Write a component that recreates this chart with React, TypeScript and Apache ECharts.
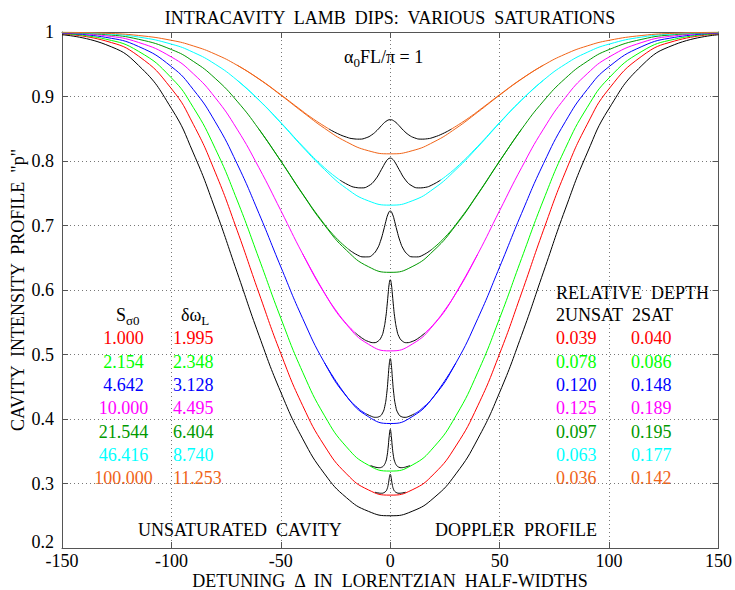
import React, { useEffect, useRef } from 'react';
import * as echarts from 'echarts';

const SERIF = '"Liberation Serif", "Times New Roman", Times, serif';

// ---------- data ----------
const X_GRID = [-150, -130, -115, -100, -90, -80, -70, -60, -50, -40, -30, -20, -10, 0, 10, 20, 30, 40, 50, 60, 70, 80, 90, 100, 115, 130, 150];

const unsatProfile = [0.9957, 0.9805, 0.9482, 0.8815, 0.8125, 0.7255, 0.6277, 0.5297, 0.4414, 0.3692, 0.3149, 0.2780, 0.2569, 0.2500, 0.2569, 0.2780, 0.3149, 0.3692, 0.4414, 0.5297, 0.6277, 0.7255, 0.8125, 0.8815, 0.9482, 0.9805, 0.9957];
const redCurve = [0.9970, 0.9861, 0.9626, 0.9121, 0.8569, 0.7827, 0.6927, 0.5952, 0.5014, 0.4206, 0.3582, 0.3150, 0.2901, 0.2820, 0.2901, 0.3150, 0.3582, 0.4206, 0.5014, 0.5952, 0.6927, 0.7827, 0.8569, 0.9121, 0.9626, 0.9861, 0.9970];
const greenCurve = [0.9976, 0.9889, 0.9700, 0.9289, 0.8830, 0.8195, 0.7395, 0.6488, 0.5563, 0.4725, 0.4049, 0.3568, 0.3285, 0.3193, 0.3285, 0.3568, 0.4049, 0.4725, 0.5563, 0.6488, 0.7395, 0.8195, 0.8830, 0.9289, 0.9700, 0.9889, 0.9976];
const blueCurve = [0.9982, 0.9917, 0.9775, 0.9463, 0.9108, 0.8609, 0.7958, 0.7187, 0.6358, 0.5557, 0.4869, 0.4352, 0.4036, 0.3930, 0.4036, 0.4352, 0.4869, 0.5557, 0.6358, 0.7187, 0.7958, 0.8609, 0.9108, 0.9463, 0.9775, 0.9917, 0.9982];
const magentaCurve = [0.9987, 0.9941, 0.9838, 0.9612, 0.9353, 0.8983, 0.8494, 0.7896, 0.7232, 0.6558, 0.5948, 0.5466, 0.5160, 0.5056, 0.5160, 0.5466, 0.5948, 0.6558, 0.7232, 0.7896, 0.8494, 0.8983, 0.9353, 0.9612, 0.9838, 0.9941, 0.9987];
const dkgreenCurve = [0.9991, 0.9959, 0.9887, 0.9728, 0.9545, 0.9281, 0.8928, 0.8493, 0.7997, 0.7483, 0.7004, 0.6616, 0.6362, 0.6274, 0.6362, 0.6616, 0.7004, 0.7483, 0.7997, 0.8493, 0.8928, 0.9281, 0.9545, 0.9728, 0.9887, 0.9959, 0.9991];
const cyanCurve = [0.9994, 0.9971, 0.9922, 0.9812, 0.9685, 0.9501, 0.9253, 0.8944, 0.8590, 0.8216, 0.7866, 0.7574, 0.7382, 0.7316, 0.7382, 0.7574, 0.7866, 0.8216, 0.8590, 0.8944, 0.9253, 0.9501, 0.9685, 0.9812, 0.9922, 0.9971, 0.9994];
const orangeCurve = [0.9996, 0.9980, 0.9946, 0.9871, 0.9784, 0.9657, 0.9485, 0.9270, 0.9021, 0.8758, 0.8506, 0.8297, 0.8159, 0.8111, 0.8159, 0.8297, 0.8506, 0.8758, 0.9021, 0.9270, 0.9485, 0.9657, 0.9784, 0.9871, 0.9946, 0.9980, 0.9996];

// saturated (Lamb dip) profiles near line centre, drawn black
const redDipX = [-7, -5, -4, -3, -2, -1.5, -1, -0.5, -0.25, 0, 0.25, 0.5, 1, 1.5, 2, 3, 4, 5, 7];
const redDipY = [0.2865, 0.2851, 0.2849, 0.2856, 0.2880, 0.2910, 0.2969, 0.3072, 0.3125, 0.3143, 0.3125, 0.3072, 0.2969, 0.2910, 0.2880, 0.2856, 0.2849, 0.2851, 0.2865];
const greenDipX = [-9, -7, -6, -5, -4, -3, -2, -1.5, -1, -0.5, 0, 0.5, 1, 1.5, 2, 3, 4, 5, 6, 7, 9];
const greenDipY = [0.3278, 0.3255, 0.3248, 0.3245, 0.3252, 0.3276, 0.3344, 0.3418, 0.3545, 0.3725, 0.3839, 0.3725, 0.3545, 0.3418, 0.3344, 0.3276, 0.3252, 0.3245, 0.3248, 0.3255, 0.3278];
const blueDipX = [-11, -8.5, -6.8, -5, -3.5, -2.5, -1.6, -1, -0.5, 0, 0.5, 1, 1.6, 2.5, 3.5, 5, 6.8, 8.5, 11];
const blueDipY = [0.4080, 0.4040, 0.4026, 0.4038, 0.4094, 0.4195, 0.4397, 0.4624, 0.4833, 0.4937, 0.4833, 0.4624, 0.4397, 0.4195, 0.4094, 0.4038, 0.4026, 0.4040, 0.4080];
const magentaDipX = [-16, -12.5, -10, -7.5, -5.5, -4, -3, -2, -1.5, -1, -0.5, 0, 0.5, 1, 1.5, 2, 3, 4, 5.5, 7.5, 10, 12.5, 16];
const magentaDipY = [0.5337, 0.5245, 0.5202, 0.5183, 0.5209, 0.5276, 0.5384, 0.5586, 0.5742, 0.5924, 0.6091, 0.6159, 0.6091, 0.5924, 0.5742, 0.5586, 0.5384, 0.5276, 0.5209, 0.5183, 0.5202, 0.5245, 0.5337];
const dkgreenDipX = [-19, -15, -12, -10, -8, -6, -4.5, -3, -2, -1, 0, 1, 2, 3, 4.5, 6, 8, 10, 12, 15, 19];
const dkgreenDipY = [0.6630, 0.6542, 0.6513, 0.6514, 0.6549, 0.6635, 0.6754, 0.6930, 0.7065, 0.7177, 0.7225, 0.7177, 0.7065, 0.6930, 0.6754, 0.6635, 0.6549, 0.6514, 0.6513, 0.6542, 0.6630];
const cyanDipX = [-23, -19, -16, -13, -10, -7, -4, -2, -1, 0, 1, 2, 4, 7, 10, 13, 16, 19, 23];
const cyanDipY = [0.7704, 0.7627, 0.7591, 0.7583, 0.7613, 0.7704, 0.7870, 0.7990, 0.8030, 0.8045, 0.8030, 0.7990, 0.7870, 0.7704, 0.7613, 0.7583, 0.7591, 0.7627, 0.7704];
const orangeDipX = [-28, -24, -20, -17, -14, -11, -8.5, -6, -4, -2, 0, 2, 4, 6, 8.5, 11, 14, 17, 20, 24, 28];
const orangeDipY = [0.8496, 0.8424, 0.8370, 0.8345, 0.8339, 0.8360, 0.8404, 0.8476, 0.8549, 0.8613, 0.8640, 0.8613, 0.8549, 0.8476, 0.8404, 0.8360, 0.8339, 0.8345, 0.8370, 0.8424, 0.8496];

// saturated profile wings (coloured) outside the black centre part; null = gap
const blueWingX = [-30, -20, -14, -11, 0, 11, 14, 20, 30];
const blueWingY = [0.4869, 0.4355, 0.4147, 0.4080, null, 0.4080, 0.4147, 0.4355, 0.4869];
const magentaWingX = [-40, -30, -25, -20, -16, 0, 16, 20, 25, 30, 40];
const magentaWingY = [0.6558, 0.5951, 0.5693, 0.5475, 0.5337, null, 0.5337, 0.5475, 0.5693, 0.5951, 0.6558];
const dkgreenWingX = [-60, -50, -40, -32, -25, -19, 0, 19, 25, 32, 40, 50, 60];
const dkgreenWingY = [0.8493, 0.8001, 0.7490, 0.7106, 0.6817, 0.6630, null, 0.6630, 0.6817, 0.7106, 0.7490, 0.8001, 0.8493];
const cyanWingX = [-70, -60, -50, -40, -30, -23, 0, 23, 30, 40, 50, 60, 70];
const cyanWingY = [0.9253, 0.8946, 0.8597, 0.8229, 0.7893, 0.7704, null, 0.7704, 0.7893, 0.8229, 0.8597, 0.8946, 0.9253];
const orangeWingX = [-70, -60, -50, -42, -35, -28, 0, 28, 35, 42, 50, 60, 70];
const orangeWingY = [0.9487, 0.9274, 0.9028, 0.8822, 0.8648, 0.8496, null, 0.8496, 0.8648, 0.8822, 0.9028, 0.9274, 0.9487];

// table texts
const satLabels = ['1.000', '2.154', '4.642', '10.000', '21.544', '46.416', '100.000'];
const dipWidthLabels = ['1.995', '2.348', '3.128', '4.495', '6.404', '8.740', '11.253'];
const depthUnsatLabels = ['0.039', '0.078', '0.120', '0.125', '0.097', '0.063', '0.036'];
const depthSatLabels = ['0.040', '0.086', '0.148', '0.189', '0.195', '0.177', '0.142'];

const COLORS = ['#ff0000', '#00ff00', '#0000ff', '#ff00ff', '#009900', '#00ffff', '#f06418'];

function pairs(xs: number[], ys: (number | null)[]) {
  return xs.map((x, i) => [x, ys[i] === null ? '-' : ys[i]]);
}

function lineSeries(xs: number[], ys: (number | null)[], color: string) {
  return {
    type: 'line',
    data: pairs(xs, ys),
    showSymbol: false,
    symbol: 'none',
    smooth: true,
    silent: true,
    connectNulls: false,
    lineStyle: { color, width: 1 },
    emphasis: { disabled: true },
  };
}

export default function App() {
  const ref = useRef<HTMLDivElement>(null);

  useEffect(() => {
    if (!ref.current) return;
    const chart = echarts.init(ref.current, undefined, { renderer: 'svg' });

    const canvas = document.createElement('canvas');
    const ctx = canvas.getContext('2d')!;
    const tw = (t: string, size: number) => {
      ctx.font = `${size}px "Liberation Serif"`;
      return ctx.measureText(t).width;
    };

    const FS = 18;
    const SUB = 13;
    const txt = (text: string, x: number, y: number, fill = '#000', align = 'left', size = FS, extra: any = {}) => ({
      type: 'text',
      x,
      y,
      silent: true,
      ...extra,
      style: { text, fill, fontSize: size, fontFamily: SERIF, align, verticalAlign: 'middle' },
    });

    const graphics: any[] = [];
    graphics.push(txt('INTRACAVITY  LAMB  DIPS:  VARIOUS  SATURATIONS', 390, 18, '#000', 'center'));
    graphics.push(txt('DETUNING  \u0394  IN  LORENTZIAN  HALF-WIDTHS', 390, 581, '#000', 'center'));
    graphics.push(txt('CAVITY  INTENSITY  PROFILE  "p"', 18, 290, '#000', 'center', FS, { rotation: Math.PI / 2 }));

    // alpha_0 FL / pi = 1
    {
      const x0 = 344, y0 = 57;
      const w1 = tw('\u03b1', FS);
      graphics.push(txt('\u03b1', x0, y0));
      graphics.push(txt('0', x0 + w1, y0 + 5, '#000', 'left', SUB));
      const w2 = tw('0', SUB);
      graphics.push(txt('FL/\u03c0 = 1', x0 + w1 + w2, y0));
    }
    // S_sigma0 header
    {
      const x0 = 116, y0 = 315;
      const w1 = tw('S', FS);
      graphics.push(txt('S', x0, y0));
      graphics.push(txt('\u03c30', x0 + w1, y0 + 5, '#000', 'left', SUB));
    }
    // delta omega_L header
    {
      const x0 = 181, y0 = 315;
      const w1 = tw('\u03b4\u03c9', FS);
      graphics.push(txt('\u03b4\u03c9', x0, y0));
      graphics.push(txt('L', x0 + w1, y0 + 5, '#000', 'left', SUB));
    }
    graphics.push(txt('RELATIVE  DEPTH', 556, 293));
    graphics.push(txt('2UNSAT', 556, 315));
    graphics.push(txt('2SAT', 632, 315));

    const rowY0 = 338.3;
    const rowDy = 23.33;
    satLabels.forEach((s, i) => {
      const y = rowY0 + i * rowDy;
      graphics.push(txt(s, 123.5, y, COLORS[i], 'center'));
      graphics.push(txt(dipWidthLabels[i], 173, y, COLORS[i], 'left'));
      graphics.push(txt(depthUnsatLabels[i], 556, y, COLORS[i], 'left'));
      graphics.push(txt(depthSatLabels[i], 631, y, COLORS[i], 'left'));
    });

    graphics.push(txt('UNSATURATED  CAVITY', 138, 530));
    graphics.push(txt('DOPPLER  PROFILE', 435, 530));

    const axisColor = '#555';
    const baseX = {
      type: 'value',
      min: -150,
      max: 150,
      interval: 50,
      axisLine: { show: true, onZero: false, lineStyle: { color: axisColor, width: 1 } },
      axisTick: { show: true, inside: true, length: 6, lineStyle: { color: axisColor } },
    };
    const baseY = {
      type: 'value',
      min: 0.2,
      max: 1,
      interval: 0.1,
      axisLine: { show: true, onZero: false, lineStyle: { color: axisColor, width: 1 } },
      axisTick: { show: true, inside: true, length: 6, lineStyle: { color: axisColor } },
    };
    const gridLine = { show: true, lineStyle: { color: '#777', width: 1, type: [1, 3] } };

    const series: any[] = [
      lineSeries(X_GRID, redCurve, COLORS[0]),
      lineSeries(X_GRID, greenCurve, COLORS[1]),
      lineSeries(X_GRID, blueCurve, COLORS[2]),
      lineSeries(X_GRID, magentaCurve, COLORS[3]),
      lineSeries(X_GRID, dkgreenCurve, COLORS[4]),
      lineSeries(X_GRID, cyanCurve, COLORS[5]),
      lineSeries(X_GRID, orangeCurve, COLORS[6]),
      lineSeries(blueWingX, blueWingY, COLORS[2]),
      lineSeries(magentaWingX, magentaWingY, COLORS[3]),
      lineSeries(dkgreenWingX, dkgreenWingY, COLORS[4]),
      lineSeries(cyanWingX, cyanWingY, COLORS[5]),
      lineSeries(orangeWingX, orangeWingY, COLORS[6]),
      lineSeries(redDipX, redDipY, '#000'),
      lineSeries(greenDipX, greenDipY, '#000'),
      lineSeries(blueDipX, blueDipY, '#000'),
      lineSeries(magentaDipX, magentaDipY, '#000'),
      lineSeries(dkgreenDipX, dkgreenDipY, '#000'),
      lineSeries(cyanDipX, cyanDipY, '#000'),
      lineSeries(orangeDipX, orangeDipY, '#000'),
      lineSeries(X_GRID, unsatProfile, '#000'),
    ];

    chart.setOption({
      animation: false,
      backgroundColor: '#fff',
      grid: { left: 62, right: 16, top: 32, bottom: 42, containLabel: false },
      xAxis: [
        {
          ...baseX,
          position: 'bottom',
          axisLabel: { color: '#000', fontSize: FS, fontFamily: SERIF, margin: 4, lineHeight: 18 },
          splitLine: gridLine,
        },
        {
          ...baseX,
          position: 'top',
          axisLabel: { show: false },
          splitLine: { show: false },
        },
      ],
      yAxis: [
        {
          ...baseY,
          position: 'left',
          axisLabel: {
            color: '#000',
            fontSize: FS,
            fontFamily: SERIF,
            margin: 8,
            formatter: (v: number) => {
              const s = String(Math.round(v * 10) / 10);
              return Math.abs(v - 0.2) < 1e-6 ? `{lo|${s}}` : s;
            },
            rich: {
              lo: { fontSize: FS, fontFamily: SERIF, color: '#000', padding: [0, 0, 12, 0] },
            },
          },
          splitLine: gridLine,
        },
        {
          ...baseY,
          position: 'right',
          axisLabel: { show: false },
          splitLine: { show: false },
        },
      ],
      series,
      graphic: graphics,
    });

    return () => chart.dispose();
  }, []);

  return <div ref={ref} style={{ position: 'fixed', left: 0, top: 0, width: 735, height: 590 }} />;
}
